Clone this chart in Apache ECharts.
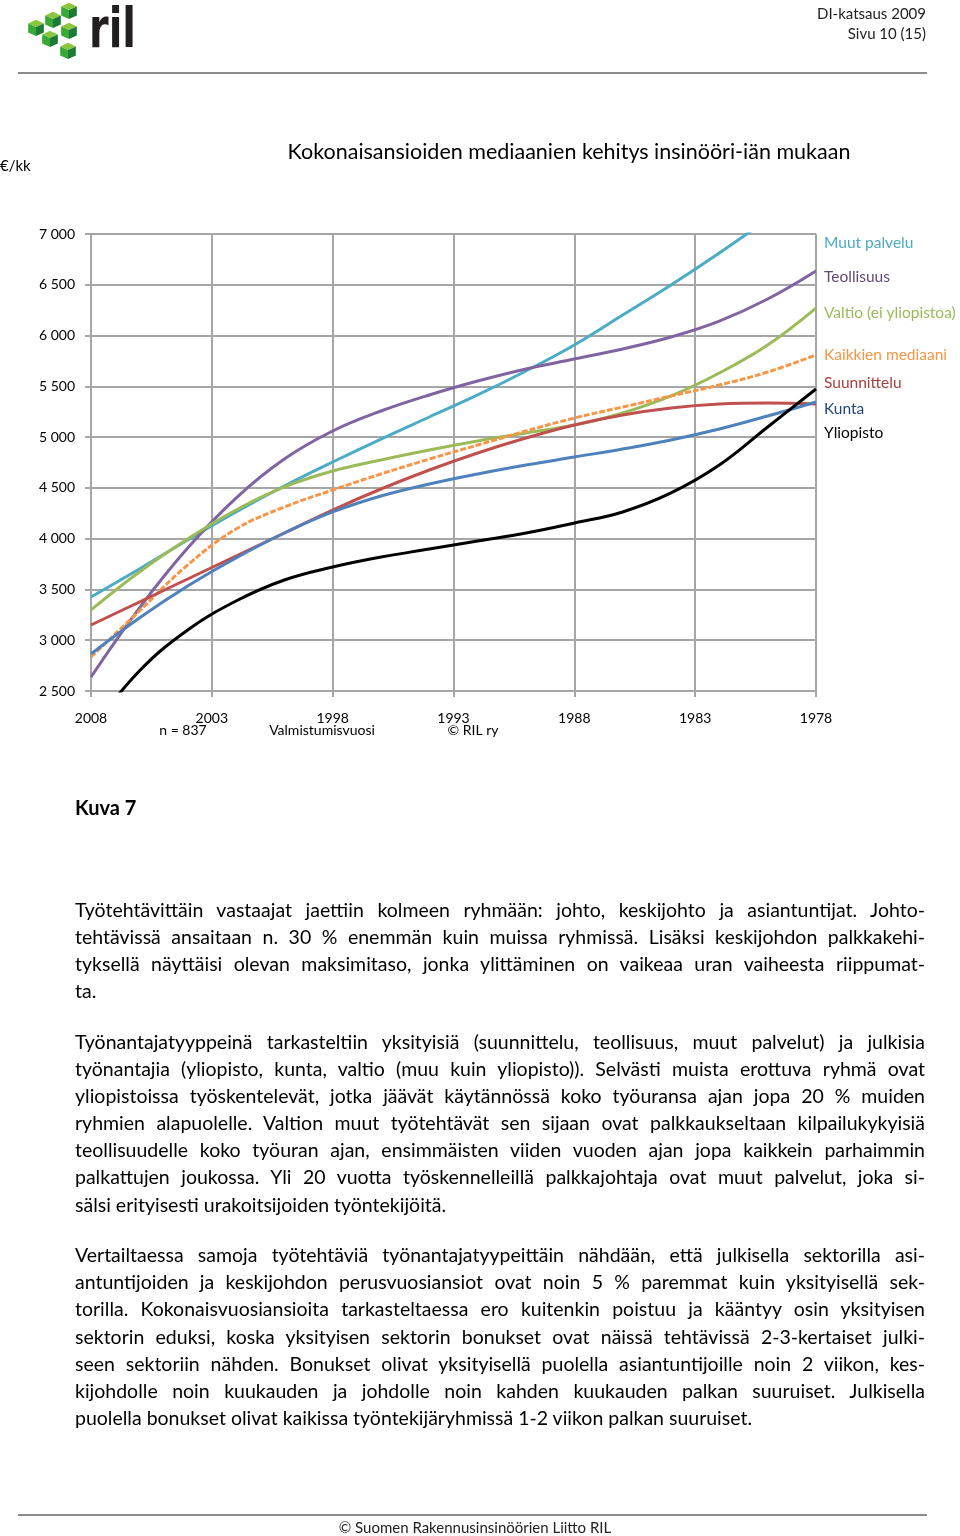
<!DOCTYPE html>
<html>
<head>
<meta charset="utf-8">
<script src="https://cdn.jsdelivr.net/npm/echarts@6/dist/echarts.min.js"></script>
<style>
  html, body { margin: 0; padding: 0; background: #fff; }
  body { width: 960px; height: 1536px; position: relative; overflow: hidden; font-family: Lato, "Noto Sans", sans-serif; color: #000; }
  #chart { position: absolute; left: 0; top: 0; width: 960px; height: 1536px; }
  .abs { position: absolute; z-index: 2; }
  .ln { position: absolute; left: 75px; width: 850px; height: 27px; line-height: 27px; font-size: 19.5px; text-align: justify; text-align-last: justify; z-index: 2; white-space: normal; }
  .ln.last { text-align: left; text-align-last: left; }
  .rule { position: absolute; left: 18px; width: 909px; height: 2px; background: #8c8c8c; z-index: 2; }
</style>
</head>
<body>
<div id="chart"></div>

<svg class="abs" style="left:0;top:0" width="160" height="70" id="logo"></svg>
<div class="abs" style="right:34px;top:3px;font-size:15px;line-height:20px;text-align:right;color:#222">DI-katsaus 2009<br>Sivu 10 (15)</div>
<div class="rule" style="top:72px"></div>

<div class="abs" style="left:75px;top:795px;font-size:20px;font-weight:bold">Kuva 7</div>
<div id="text"></div>

<div class="rule" style="top:1514px"></div>
<div class="abs" style="left:0;width:950px;top:1517px;font-size:15px;line-height:20px;text-align:center;color:#222">© Suomen Rakennusinsinöörien Liitto RIL</div>

<script>
// ---- data ----
const years = [2008, 2006, 2004, 2002, 2000, 1998, 1996, 1994, 1992, 1990, 1988, 1986, 1984, 1982, 1980, 1978];
const xTicks = [2008, 2003, 1998, 1993, 1988, 1983, 1978];
const muutPalvelu = [3426, 3701, 3987, 4263, 4519, 4755, 4981, 5198, 5415, 5651, 5907, 6202, 6498, 6813, 7148, 7512];
const teollisuus  = [2638, 3317, 3908, 4400, 4784, 5060, 5257, 5415, 5552, 5671, 5769, 5868, 5986, 6143, 6360, 6636];
const valtio      = [3298, 3672, 3997, 4282, 4509, 4666, 4775, 4873, 4962, 5040, 5119, 5237, 5405, 5631, 5907, 6271];
const kaikkien    = [2835, 3288, 3741, 4095, 4312, 4479, 4637, 4784, 4922, 5060, 5188, 5296, 5405, 5513, 5641, 5809];
const suunnittelu = [3150, 3376, 3603, 3829, 4056, 4282, 4489, 4676, 4844, 4991, 5119, 5218, 5287, 5326, 5336, 5326];
const kunta       = [2864, 3219, 3534, 3810, 4056, 4263, 4420, 4538, 4637, 4725, 4804, 4883, 4972, 5080, 5208, 5346];
const yliopisto   = [2116, 2697, 3101, 3386, 3593, 3721, 3819, 3898, 3977, 4056, 4154, 4263, 4450, 4725, 5100, 5474];
const seriesNames = ['Muut palvelu', 'Teollisuus', 'Valtio (ei yliopistoa)', 'Kaikkien mediaani', 'Suunnittelu', 'Kunta', 'Yliopisto'];
const seriesValues = [muutPalvelu, teollisuus, valtio, kaikkien, suunnittelu, kunta, yliopisto];
const yTicks = [2500, 3000, 3500, 4000, 4500, 5000, 5500, 6000, 6500, 7000];

// ---- styles ----
const lineColors = ['#4BACC6', '#8064A2', '#9BBB59', '#F79646', '#C0504D', '#4F81BD', '#000000'];
const labelColors = ['#4BACC6', '#604A7B', '#9BBB59', '#F79646', '#A5403D', '#1F497D', '#000000'];
const labelY = [243, 277, 313, 355, 383, 409, 433];
const gridColor = '#A6A6A6';
const fmt = v => String(v).replace(/\B(?=(\d{3})+(?!\d))/g, ' ');

const chart = echarts.init(document.getElementById('chart'), null, { renderer: 'canvas' });

const series = seriesNames.map((name, i) => ({
  name: name,
  type: 'line',
  smooth: 0.4,
  showSymbol: false,
  clip: true,
  z: 2 + i,
  data: years.map((y, j) => [y, seriesValues[i][j]]),
  lineStyle: {
    color: lineColors[i],
    width: 3,
    type: name === 'Kaikkien mediaani' ? [6, 2] : 'solid'
  },
  itemStyle: { color: lineColors[i] }
}));

const font = 'Lato, "Noto Sans", sans-serif';
function txt(x, y, text, size, fill, align) {
  return { type: 'text', x: x, y: y, style: { text: text, font: size + 'px ' + font, fill: fill, align: align, verticalAlign: 'middle', textAlign: align, textVerticalAlign: 'middle' } };
}
const graphics = [
  txt(569, 152, 'Kokonaisansioiden mediaanien kehitys insinööri-iän mukaan', 21.5, '#000', 'center'),
  txt(0, 166, '€/kk', 15, '#000', 'left'),
  txt(183, 730, 'n = 837', 14, '#000', 'center'),
  txt(322, 730, 'Valmistumisvuosi', 14, '#000', 'center'),
  txt(473, 730, '© RIL ry', 14, '#000', 'center')
];
seriesNames.forEach((n, i) => graphics.push(txt(824, labelY[i], n, 15.5, labelColors[i], 'left')));

chart.setOption({
  animation: false,
  backgroundColor: 'transparent',
  grid: { left: 91, right: 144, top: 234, bottom: 845, containLabel: false },
  xAxis: {
    type: 'value', inverse: true, min: 1978, max: 2008, interval: 5,
    axisLine: { show: true, lineStyle: { color: gridColor, width: 2 } },
    axisTick: { show: true, length: 6, lineStyle: { color: gridColor, width: 2 } },
    splitLine: { show: true, lineStyle: { color: gridColor, width: 2 } },
    axisLabel: { fontSize: 14, fontFamily: font, color: '#000', margin: 20,
      formatter: v => xTicks.includes(v) ? String(v) : '' }
  },
  yAxis: {
    type: 'value', min: yTicks[0], max: yTicks[yTicks.length - 1], interval: 500,
    axisLine: { show: true, lineStyle: { color: gridColor, width: 2 } },
    axisTick: { show: true, length: 6, lineStyle: { color: gridColor, width: 2 } },
    splitLine: { show: true, lineStyle: { color: gridColor, width: 2 } },
    axisLabel: { fontSize: 14, fontFamily: font, color: '#000', margin: 16, formatter: v => fmt(v) }
  },
  graphic: graphics,
  series: series
});

// ---- page text ----
const paragraphs = [
  { ys: [909, 936, 963, 990], lines: [
    'Työtehtävittäin vastaajat jaettiin kolmeen ryhmään: johto, keskijohto ja asiantuntijat. Johto-',
    'tehtävissä ansaitaan n. 30 % enemmän kuin muissa ryhmissä. Lisäksi keskijohdon palkkakehi-',
    'tyksellä näyttäisi olevan maksimitaso, jonka ylittäminen on vaikeaa uran vaiheesta riippumat-',
    'ta.' ] },
  { ys: [1041, 1068, 1095, 1122, 1149, 1176, 1204], lines: [
    'Työnantajatyyppeinä tarkasteltiin yksityisiä (suunnittelu, teollisuus, muut palvelut) ja julkisia',
    'työnantajia (yliopisto, kunta, valtio (muu kuin yliopisto)). Selvästi muista erottuva ryhmä ovat',
    'yliopistoissa työskentelevät, jotka jäävät käytännössä koko työuransa ajan jopa 20 % muiden',
    'ryhmien alapuolelle. Valtion muut työtehtävät sen sijaan ovat palkkaukseltaan kilpailukykyisiä',
    'teollisuudelle koko työuran ajan, ensimmäisten viiden vuoden ajan jopa kaikkein parhaimmin',
    'palkattujen joukossa. Yli 20 vuotta työskennelleillä palkkajohtaja ovat muut palvelut, joka si-',
    'sälsi erityisesti urakoitsijoiden työntekijöitä.' ] },
  { ys: [1254, 1281, 1308, 1336, 1363, 1390, 1417], lines: [
    'Vertailtaessa samoja työtehtäviä työnantajatyypeittäin nähdään, että julkisella sektorilla asi-',
    'antuntijoiden ja keskijohdon perusvuosiansiot ovat noin 5 % paremmat kuin yksityisellä sek-',
    'torilla. Kokonaisvuosiansioita tarkasteltaessa ero kuitenkin poistuu ja kääntyy osin yksityisen',
    'sektorin eduksi, koska yksityisen sektorin bonukset ovat näissä tehtävissä 2-3-kertaiset julki-',
    'seen sektoriin nähden. Bonukset olivat yksityisellä puolella asiantuntijoille noin 2 viikon, kes-',
    'kijohdolle noin kuukauden ja johdolle noin kahden kuukauden palkan suuruiset. Julkisella',
    'puolella bonukset olivat kaikissa työntekijäryhmissä 1-2 viikon palkan suuruiset.' ] }
];
const textBox = document.getElementById('text');
const meas = document.createElement('span');
meas.style.cssText = 'position:absolute;visibility:hidden;white-space:nowrap;font-size:19.5px;font-family:Lato,"Noto Sans",sans-serif;';
document.body.appendChild(meas);
paragraphs.forEach(p => {
  p.lines.forEach((t, i) => {
    const d = document.createElement('div');
    d.className = 'ln' + (i === p.lines.length - 1 ? ' last' : '');
    d.textContent = t;
    d.style.top = (p.ys[i] - 13.5) + 'px';
    meas.textContent = t;
    const w = meas.getBoundingClientRect().width;
    if (w > 846) d.style.fontSize = (19.5 * 846 / w).toFixed(2) + 'px';
    textBox.appendChild(d);
  });
});
meas.remove();

// ---- logo ----
const svgNS = 'http://www.w3.org/2000/svg';
const logo = document.getElementById('logo');
const cubes = [[36, 27], [53, 19], [69, 10], [50, 38], [69, 30], [68, 50]];
const s = 9, k = 0.87 * s;
function poly(pts, fill) {
  const p = document.createElementNS(svgNS, 'polygon');
  p.setAttribute('points', pts.map(a => a.join(',')).join(' '));
  p.setAttribute('fill', fill);
  logo.appendChild(p);
}
cubes.forEach(([cx, cy]) => {
  poly([[cx, cy - s * 0.8], [cx + k, cy - s * 0.4], [cx, cy], [cx - k, cy - s * 0.4]], '#8CC63F');
  poly([[cx - k, cy - s * 0.4], [cx, cy], [cx, cy + s], [cx - k, cy + s * 0.6]], '#39A935');
  poly([[cx, cy], [cx + k, cy - s * 0.4], [cx + k, cy + s * 0.6], [cx, cy + s]], '#1B7A33');
});
const tx = document.createElementNS(svgNS, 'text');
tx.setAttribute('x', 89); tx.setAttribute('y', 47);
tx.setAttribute('font-family', '"DejaVu Sans", sans-serif');
tx.setAttribute('font-weight', 'bold');
tx.setAttribute('font-size', '56');
tx.setAttribute('textLength', '47');
tx.setAttribute('lengthAdjust', 'spacingAndGlyphs');
tx.setAttribute('fill', '#231F20');
tx.textContent = 'ril';
logo.appendChild(tx);
</script>
</body>
</html>
